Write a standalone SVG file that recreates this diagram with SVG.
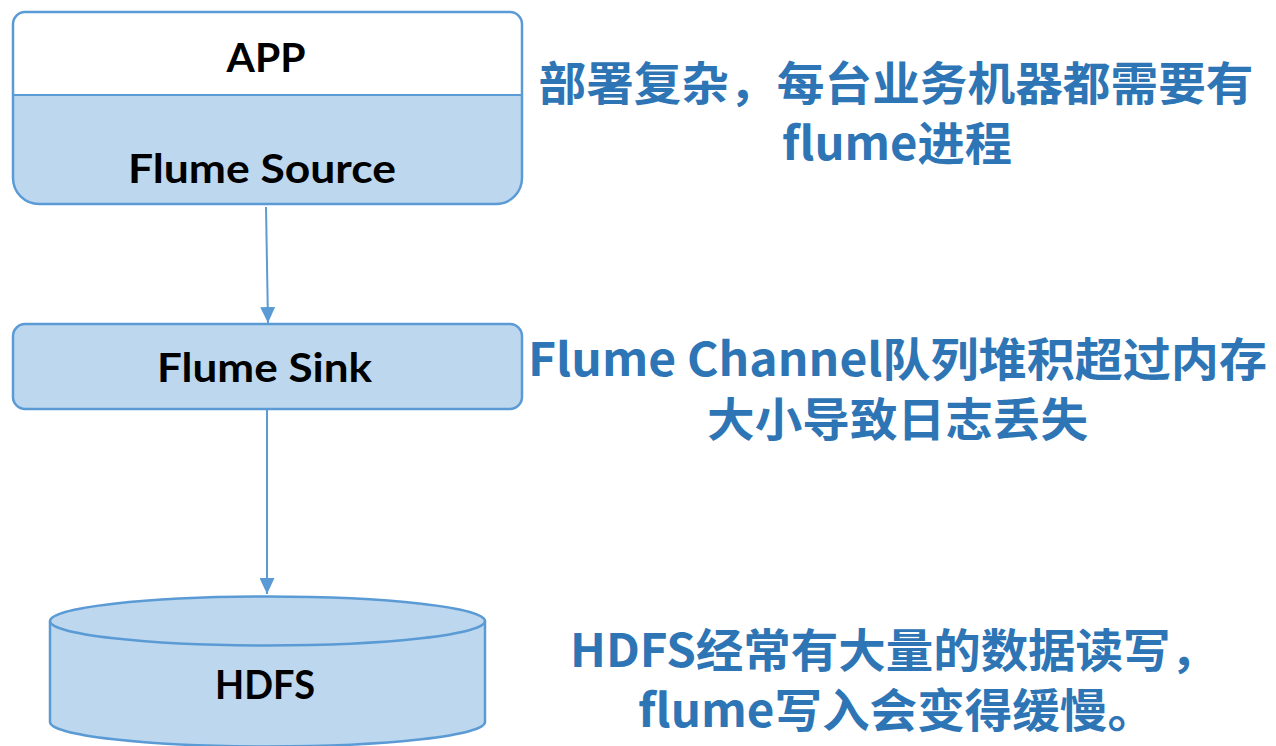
<svg xmlns="http://www.w3.org/2000/svg" width="1276" height="746" viewBox="0 0 1276 746">
<defs>
<style>
.box{fill:#BDD7EE;stroke:#5B9BD5;stroke-width:2.5}
.lbl{font-family:Lato,"Open Sans","Liberation Sans",sans-serif;font-weight:bold;font-size:40px;fill:#000;text-anchor:middle}
.note{font-family:"Noto Sans CJK SC","Noto Sans",sans-serif;font-weight:bold;font-size:46px;fill:#2E75B6;text-anchor:middle}
.conn{stroke:#5B9BD5;stroke-width:2;fill:none}
</style>
<marker id="arr" markerUnits="userSpaceOnUse" markerWidth="16" markerHeight="15" refX="16" refY="7.5" orient="auto">
<path d="M0,0 L16,7.5 L0,15 Z" fill="#5B9BD5"/>
</marker>
</defs>
<rect width="1276" height="746" fill="#fff"/>
<g id="app-source">
<path d="M25,12 H510 A12,12 0 0 1 522,24 V178 A26,26 0 0 1 496,204 H39 A26,26 0 0 1 13,178 V24 A12,12 0 0 1 25,12 Z" fill="#fff" stroke="none"/>
<path d="M13,95 H522 V178 A26,26 0 0 1 496,204 H39 A26,26 0 0 1 13,178 Z" fill="#BDD7EE" stroke="none"/>
<path d="M25,12 H510 A12,12 0 0 1 522,24 V178 A26,26 0 0 1 496,204 H39 A26,26 0 0 1 13,178 V24 A12,12 0 0 1 25,12 Z" fill="none" stroke="#5B9BD5" stroke-width="2.5"/>
<line x1="13" y1="95" x2="522" y2="95" stroke="#5B9BD5" stroke-width="2"/>
<text class="lbl" x="266" y="72" textLength="79" lengthAdjust="spacingAndGlyphs">APP</text>
<text class="lbl" x="262" y="183" textLength="268" lengthAdjust="spacingAndGlyphs">Flume Source</text>
</g>
<g id="sink">
<rect class="box" x="13" y="324" width="509" height="85" rx="12" ry="12"/>
<text class="lbl" x="264.5" y="382" textLength="215" lengthAdjust="spacingAndGlyphs">Flume Sink</text>
</g>
<g id="hdfs">
<path class="box" d="M50,621 V722 A217.5,24.5 0 0 0 485,722 V621"/>
<ellipse class="box" cx="267.5" cy="621" rx="217.5" ry="24.5"/>
<text class="lbl" x="265" y="699" textLength="100" lengthAdjust="spacingAndGlyphs">HDFS</text>
</g>
<g id="connectors">
<line class="conn" x1="266" y1="207" x2="268" y2="323" marker-end="url(#arr)"/>
<line class="conn" x1="267" y1="410" x2="267" y2="594" marker-end="url(#arr)"/>
</g>
<g id="notes">
<text class="note" x="896" y="100" textLength="715" lengthAdjust="spacingAndGlyphs">部署复杂，每台业务机器都需要有</text>
<text class="note" x="897" y="160" textLength="230" lengthAdjust="spacingAndGlyphs">flume进程</text>
<text class="note" x="897.5" y="376" textLength="739" lengthAdjust="spacingAndGlyphs">Flume Channel队列堆积超过内存</text>
<text class="note" x="897.5" y="436" textLength="381" lengthAdjust="spacingAndGlyphs">大小导致日志丢失</text>
<text class="note" x="894" y="667" textLength="648" lengthAdjust="spacingAndGlyphs">HDFS经常有大量的数据读写，</text>
<text class="note" x="896.5" y="727" textLength="517" lengthAdjust="spacingAndGlyphs">flume写入会变得缓慢。</text>
</g>
</svg>
